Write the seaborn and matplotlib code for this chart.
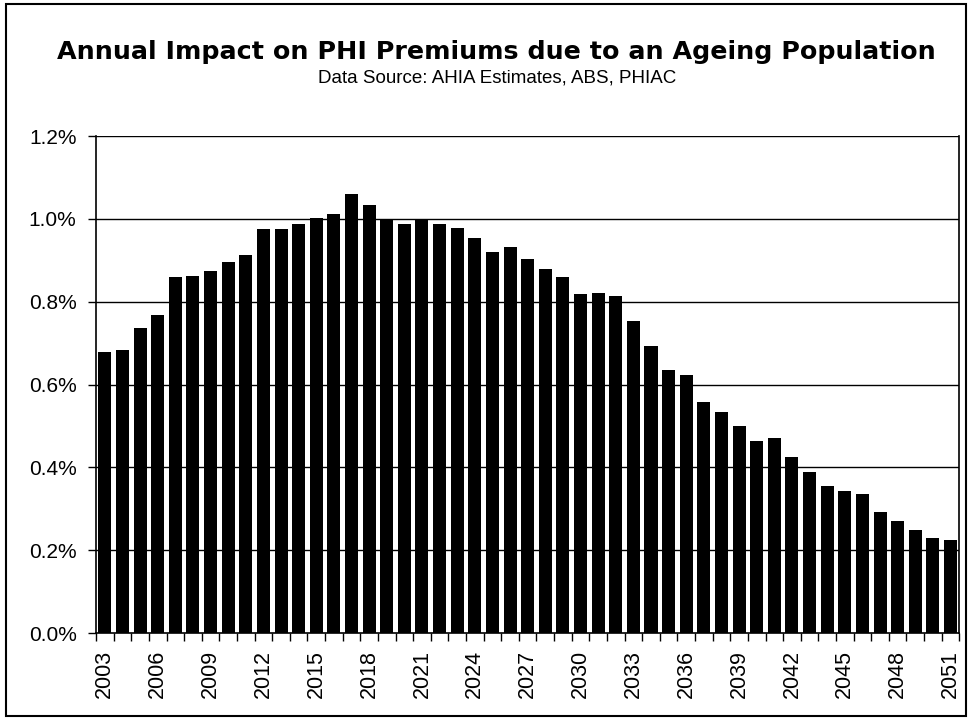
import numpy as np
import pandas as pd
import seaborn as sns
import matplotlib.pyplot as plt
from matplotlib.patches import Rectangle
from matplotlib.ticker import FuncFormatter, FixedLocator

# data (percent)
years = list(range(2003, 2052))
impact = [0.679, 0.683, 0.737, 0.769, 0.859, 0.863, 0.875, 0.895, 0.912, 0.976,
          0.976, 0.987, 1.003, 1.012, 1.059, 1.034, 0.997, 0.987, 0.997, 0.987,
          0.979, 0.954, 0.920, 0.932, 0.904, 0.879, 0.860, 0.818, 0.821, 0.814,
          0.754, 0.692, 0.636, 0.624, 0.559, 0.534, 0.501, 0.463, 0.472, 0.425,
          0.388, 0.355, 0.342, 0.335, 0.292, 0.271, 0.249, 0.229, 0.224]
labels = [str(y) for y in years]

df = pd.DataFrame({'year': labels, 'impact': impact})

sns.set_style('white')
plt.rcParams['font.family'] = ['Liberation Sans', 'DejaVu Sans']
plt.rcParams['text.color'] = 'black'
plt.rcParams['xtick.color'] = 'black'
plt.rcParams['ytick.color'] = 'black'

fig = plt.figure(figsize=(9.70, 7.19), dpi=100)
ax = fig.add_axes([0.099, 0.1196, 0.89, 0.6912])

sns.barplot(data=df, x='year', y='impact', color='black', width=0.74,
            saturation=1, edgecolor='black', linewidth=0, ax=ax, zorder=3)

ax.set_ylim(0, 1.2)
ax.set_xlim(-0.5, len(years) - 0.5)
ax.set_yticks(np.arange(0, 1.21, 0.2))
ax.yaxis.set_major_formatter(FuncFormatter(lambda v, p: f"{v:.1f}%"))
for yv in np.arange(0.2, 1.21, 0.2):
    ax.axhline(yv, color='black', linewidth=1.0, zorder=1)

# labels every third year, tick marks between categories
ax.set_xticks(range(0, len(years), 3))
ax.set_xticklabels(labels[::3], rotation=90)
ax.xaxis.set_minor_locator(FixedLocator(np.arange(-0.5, len(years), 1.0)))
ax.tick_params(axis='x', which='major', length=0, pad=12, labelsize=15.5)
ax.tick_params(axis='x', which='minor', length=6, width=1, color='black', direction='out')
ax.tick_params(axis='y', length=6, width=1, color='black', direction='out', labelsize=15, pad=8)
ax.tick_params(axis='both', bottom=True, left=True)
ax.xaxis.set_tick_params(which='minor', bottom=True)

ax.set_xlabel('')
ax.set_ylabel('')
for side in ['left', 'bottom', 'right']:
    ax.spines[side].set_visible(True)
    ax.spines[side].set_color('black')
    ax.spines[side].set_linewidth(1.2)
ax.spines['top'].set_visible(False)

fig.text(0.512, 0.918, 'Annual Impact on PHI Premiums due to an Ageing Population',
         ha='center', va='baseline', fontsize=18.3, fontweight='bold', family='DejaVu Sans')
fig.text(0.512, 0.885, 'Data Source: AHIA Estimates, ABS, PHIAC',
         ha='center', va='baseline', fontsize=13.5)

fig.patches.append(Rectangle((0.006, 0.004), 0.99, 0.99, transform=fig.transFigure,
                             fill=False, edgecolor='black', linewidth=1.5))

fig.savefig('out.png', dpi=100)
